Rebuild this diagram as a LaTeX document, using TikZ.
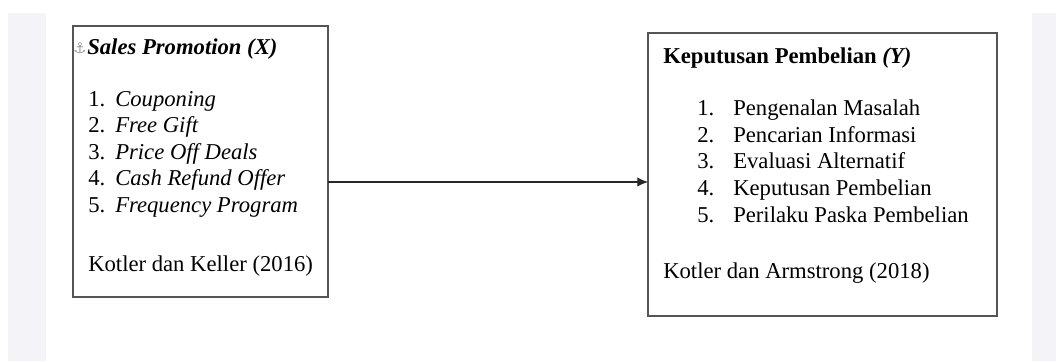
\documentclass[tikz,border=0pt]{standalone}
\usepackage{fontspec}
\setmainfont{Liberation Serif}
\newfontfamily\symfont{DejaVu Sans}
\usetikzlibrary{arrows.meta}
\definecolor{stripgray}{RGB}{244,244,248}
\definecolor{boxline}{RGB}{85,85,85}
\tikzset{
  box/.style={draw=boxline, line width=1.1pt, fill=white, inner sep=0pt, outer sep=0pt},
  txt/.style={anchor=base west, inner sep=0pt, font=\fontsize{17}{20}\selectfont, text=black},
  conn/.style={draw=black!85, line width=0.8pt, -{Latex[length=8pt,width=7pt]}}
}
\begin{document}
\begin{tikzpicture}[x=0.75pt,y=-0.75pt]
\useasboundingbox (0,0) rectangle (1056,361);
\fill[white] (0,0) rectangle (1056,361);
\fill[stripgray] (8,13) rectangle (46,361);
\fill[stripgray] (1032,13) rectangle (1056,361);
% boxes
\node[box, minimum width=191.25pt, minimum height=203.25pt] (X) at (200.5,161.5) {};
\node[box, minimum width=261.75pt, minimum height=212.25pt] (Y) at (822.5,174.5) {};
% left box text
\node[anchor=base west, inner sep=0pt, font=\symfont\fontsize{11}{12}\selectfont, text=black!40] (anc) at (73,53) {⚓};
\node[txt] (xt) at (87,54) {\textbf{\textit{Sales Promotion (X)}}};
\node[txt] (x1n) at (88,106) {1.};
\node[txt] (x1) at (115,106) {\textit{Couponing}};
\node[txt] (x2n) at (88,132.6) {2.};
\node[txt] (x2) at (115,132.6) {\textit{Free Gift}};
\node[txt] (x3n) at (88,159.2) {3.};
\node[txt] (x3) at (115,159.2) {\textit{Price Off Deals}};
\node[txt] (x4n) at (88,185.8) {4.};
\node[txt] (x4) at (115,185.8) {\textit{Cash Refund Offer}};
\node[txt] (x5n) at (88,212.4) {5.};
\node[txt] (x5) at (115,212.4) {\textit{Frequency Program}};
\node[txt] (xs) at (88,271) {Kotler dan Keller (2016)};
% right box text
\node[txt] (yt) at (663,63) {\textbf{Keputusan Pembelian \textit{(Y)}}};
\node[txt] (y1n) at (697,115.5) {1.};
\node[txt] (y1) at (733,115.5) {Pengenalan Masalah};
\node[txt] (y2n) at (697,142.2) {2.};
\node[txt] (y2) at (733,142.2) {Pencarian Informasi};
\node[txt] (y3n) at (697,168.9) {3.};
\node[txt] (y3) at (733,168.9) {Evaluasi Alternatif};
\node[txt] (y4n) at (697,195.6) {4.};
\node[txt] (y4) at (733,195.6) {Keputusan Pembelian};
\node[txt] (y5n) at (697,222.3) {5.};
\node[txt] (y5) at (733,222.3) {Perilaku Paska Pembelian};
\node[txt] (ys) at (663,278) {Kotler dan Armstrong (2018)};
% connector
\coordinate (lvl) at (0,182);
\draw[conn] (X.east |- lvl) -- (Y.west |- lvl);
\end{tikzpicture}
\end{document}
